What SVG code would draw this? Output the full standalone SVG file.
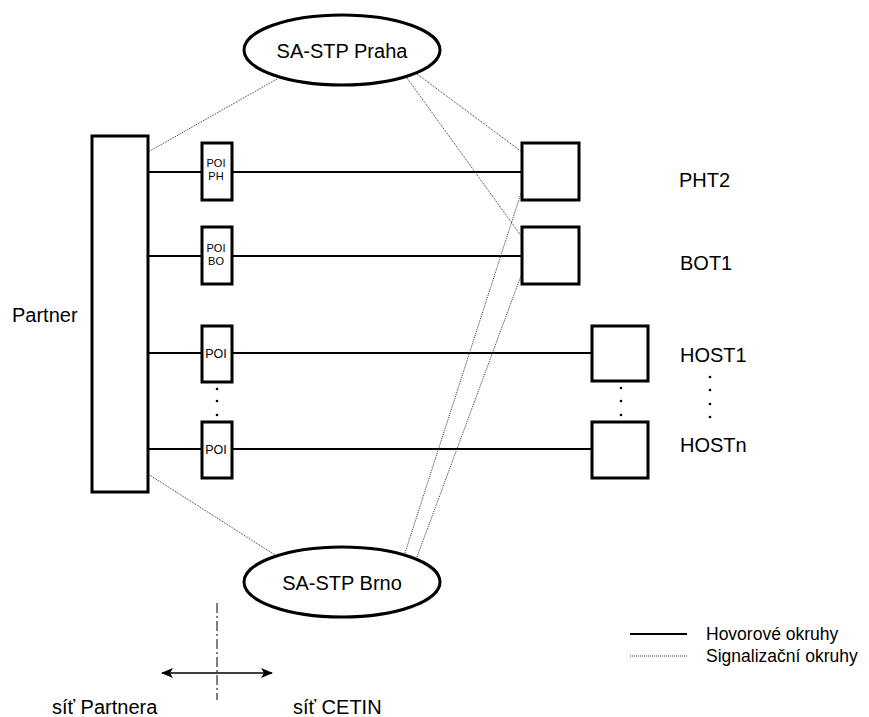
<svg xmlns="http://www.w3.org/2000/svg" width="869" height="717" viewBox="0 0 869 717">
<style>
.box{fill:#fff;stroke:#000;stroke-width:3}
.ell{fill:#fff;stroke:#000;stroke-width:3}
.solid{stroke:#000;stroke-width:2;fill:none}
.dot{stroke:#333;stroke-width:1;stroke-dasharray:1 1;fill:none}
.t{font-family:"Liberation Sans",Arial,sans-serif;font-size:20px;fill:#000}
.poi{font-family:"Liberation Sans",Arial,sans-serif;font-size:11px;fill:#000;text-anchor:middle}
.poi2{font-family:"Liberation Sans",Arial,sans-serif;font-size:12.5px;fill:#000;text-anchor:middle}
.lg{font-family:"Liberation Sans",Arial,sans-serif;font-size:17.5px;fill:#000}
</style>
<defs>
<marker id="ah" markerWidth="12" markerHeight="10" refX="11" refY="5" orient="auto-start-reverse" markerUnits="userSpaceOnUse">
<path d="M0,0 L12,5 L0,10 L3,5 z" fill="#000"/>
</marker>
</defs>
<rect width="869" height="717" fill="#fff"/>
<g id="connectors">
<line class="solid" x1="148" y1="172" x2="202" y2="172"/>
<line class="solid" x1="232" y1="172" x2="522" y2="172"/>
<line class="solid" x1="148" y1="256" x2="202" y2="256"/>
<line class="solid" x1="232" y1="256" x2="522" y2="256"/>
<line class="solid" x1="148" y1="353" x2="202" y2="353"/>
<line class="solid" x1="232" y1="353" x2="592" y2="353"/>
<line class="solid" x1="148" y1="449" x2="202" y2="449"/>
<line class="solid" x1="232" y1="449" x2="592" y2="449"/>
<line class="dot" x1="277" y1="79" x2="148" y2="152"/>
<line class="dot" x1="417" y1="74" x2="522" y2="152"/>
<line class="dot" x1="407" y1="78" x2="522" y2="237"/>
<line class="dot" x1="405" y1="553" x2="522" y2="190"/>
<line class="dot" x1="417" y1="557" x2="522" y2="273"/>
<line class="dot" x1="148" y1="474" x2="275" y2="555"/>
</g>
<g id="partner">
<rect class="box" x="92" y="136" width="56" height="356"/>
<text class="t" x="12" y="322">Partner</text>
</g>
<g id="praha">
<ellipse class="ell" cx="342" cy="50" rx="98" ry="35"/>
<text class="t" x="342" y="58" text-anchor="middle">SA-STP Praha</text>
</g>
<g id="brno">
<ellipse class="ell" cx="342" cy="582" rx="98" ry="35"/>
<text class="t" x="342" y="590" text-anchor="middle">SA-STP Brno</text>
</g>
<g id="poi-ph">
<rect class="box" x="202" y="143" width="30" height="57"/>
<text class="poi" x="216" y="167">POI</text>
<text class="poi" x="216" y="180">PH</text>
</g>
<g id="poi-bo">
<rect class="box" x="202" y="227" width="30" height="57"/>
<text class="poi" x="216" y="252">POI</text>
<text class="poi" x="216" y="265">BO</text>
</g>
<g id="poi-1">
<rect class="box" x="202" y="326" width="30" height="56"/>
<text class="poi2" x="216" y="358">POI</text>
</g>
<g id="poi-dots">
<circle cx="217" cy="389" r="1.3"/>
<circle cx="217" cy="401" r="1.3"/>
<circle cx="217" cy="415" r="1.3"/>
</g>
<g id="poi-n">
<rect class="box" x="202" y="422" width="30" height="56"/>
<text class="poi2" x="216" y="454">POI</text>
</g>
<g id="pht2">
<rect class="box" x="522" y="143" width="57" height="57"/>
<text class="t" x="679" y="187">PHT2</text>
</g>
<g id="bot1">
<rect class="box" x="522" y="227" width="57" height="57"/>
<text class="t" x="680" y="270">BOT1</text>
</g>
<g id="host1">
<rect class="box" x="592" y="326" width="56" height="55"/>
<text class="t" x="680" y="362">HOST1</text>
</g>
<g id="host-dots">
<circle cx="621" cy="388" r="1.3"/>
<circle cx="621" cy="401" r="1.3"/>
<circle cx="621" cy="415" r="1.3"/>
<circle cx="710" cy="377" r="1.3"/>
<circle cx="710" cy="390" r="1.3"/>
<circle cx="710" cy="404" r="1.3"/>
<circle cx="710" cy="417" r="1.3"/>
</g>
<g id="hostn">
<rect class="box" x="592" y="422" width="56" height="56"/>
<text class="t" x="680" y="452">HOSTn</text>
</g>
<g id="boundary">
<line x1="217" y1="603" x2="217" y2="700" stroke="#000" stroke-width="1" stroke-dasharray="10 3 2 3"/>
<line x1="162" y1="673" x2="272" y2="673" stroke="#000" stroke-width="1.5" marker-start="url(#ah)" marker-end="url(#ah)"/>
<text class="t" x="52" y="714">síť Partnera</text>
<text class="t" x="293" y="714">síť CETIN</text>
</g>
<g id="legend">
<line class="solid" x1="630" y1="634" x2="687" y2="634"/>
<line class="dot" x1="630" y1="656" x2="687" y2="656"/>
<text class="lg" x="706" y="640">Hovorové okruhy</text>
<text class="lg" x="706" y="662">Signalizační okruhy</text>
</g>
</svg>
